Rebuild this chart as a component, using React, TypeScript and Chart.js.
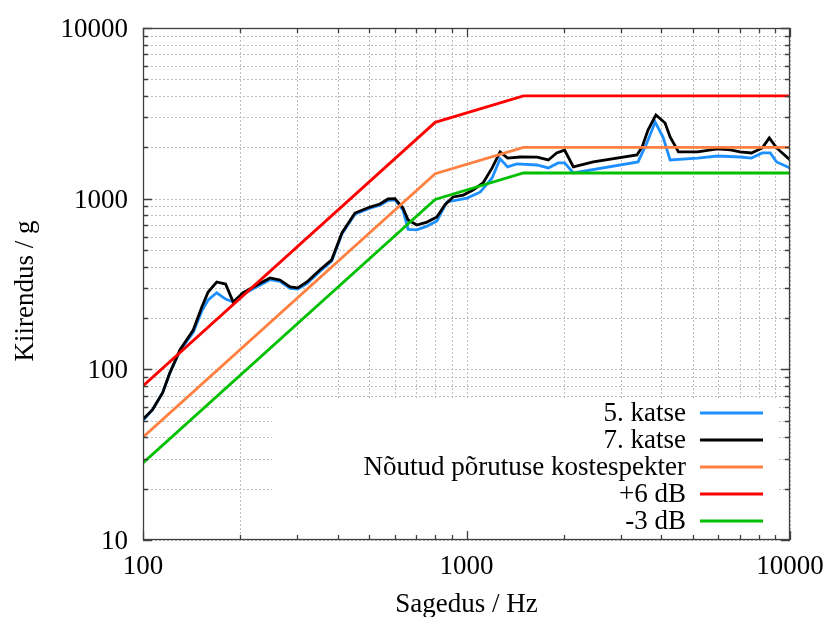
import React, { useEffect, useRef } from "react";
import { Chart, registerables } from "chart.js";
Chart.register(...registerables);

const FONT = '"Liberation Serif", "Times New Roman", serif';

// ---- data ----
const freq5 = [100, 107, 115, 121, 130, 143, 152, 159, 169, 180, 190, 204, 225, 247, 265, 285, 301, 321, 352, 383, 412, 452, 503, 540, 572, 601, 636, 660, 702, 755, 810, 870, 1005, 1104, 1200, 1270, 1340, 1430, 1650, 1790, 1920, 2010, 2140, 3390, 3610, 3830, 4050, 4260, 5180, 5970, 7010, 7600, 8210, 8690, 9090, 10000];
const accel5 = [50, 58, 73, 95, 128, 165, 220, 255, 281, 258, 248, 275, 305, 335, 328, 298, 295, 318, 375, 430, 620, 810, 880, 915, 975, 985, 860, 660, 656, 690, 740, 957, 1008, 1095, 1322, 1710, 1535, 1597, 1575, 1514, 1620, 1620, 1415, 1641, 2119, 2813, 2297, 1686, 1730, 1778, 1754, 1730, 1853, 1853, 1641, 1514];

const freq7 = [100, 107, 115, 121, 130, 143, 152, 159, 169, 180, 190, 204, 225, 247, 265, 285, 301, 321, 352, 383, 412, 452, 503, 540, 572, 601, 636, 660, 702, 755, 810, 857, 909, 977, 1048, 1125, 1200, 1270, 1340, 1464, 1654, 1790, 1900, 2010, 2140, 2465, 3365, 3490, 3640, 3850, 4110, 4260, 4520, 5180, 5970, 6540, 7010, 7600, 8210, 8630, 9090, 10000];
const accel7 = [51, 58, 73, 95, 130, 170, 232, 284, 325, 316, 248, 281, 312, 343, 334, 304, 300, 325, 382, 438, 630, 824, 893, 930, 996, 1000, 881, 750, 701, 729, 781, 918, 1023, 1050, 1125, 1237, 1514, 1880, 1730, 1754, 1750, 1686, 1853, 1926, 1535, 1641, 1803, 2010, 2523, 3093, 2774, 2297, 1880, 1880, 1955, 1930, 1880, 1853, 1983, 2270, 1983, 1686];

const refFreq = [100, 800, 1500, 10000];
const srs = [40, 1400, 2000, 2000];
const plus6 = [80, 2800, 4000, 4000];
const minus3 = [28.3, 990, 1414, 1414];

const xTickLabels = ["100", "1000", "10000"];
const yTickLabels = ["10", "100", "1000", "10000"];

const seriesLabels = ["5. katse", "7. katse", "Nõutud põrutuse kostespekter", "+6 dB", "-3 dB"];
const seriesColors = ["#1e8fff", "#000000", "#ff8040", "#ff0000", "#00c000"];

const xTitle = "Sagedus / Hz";
const yTitle = "Kiirendus / g";

function logSteps(min: number, max: number): number[] {
  const out: number[] = [];
  for (let p = Math.floor(Math.log10(min)); p <= Math.ceil(Math.log10(max)); p++) {
    for (let m = 1; m <= 9; m++) {
      const v = m * Math.pow(10, p);
      if (v >= min - 1e-9 && v <= max + 1e-9) out.push(v);
    }
  }
  return out;
}
const xGrid = logSteps(100, 10000);
const yGrid = logSteps(10, 10000);
const isDecade = (v: number) => Math.abs(Math.log10(v) - Math.round(Math.log10(v))) < 1e-9;

const pts = (xs: number[], ys: number[]) => xs.map((x, i) => ({ x, y: ys[i] }));

const framePlugin = {
  id: "frameLegend",
  beforeDatasetsDraw(chart: any) {
    const { ctx, chartArea: a, scales } = chart;
    const x = scales.x, y = scales.y;
    ctx.save();
    ctx.strokeStyle = "#bcbcbc";
    ctx.lineWidth = 1;
    ctx.setLineDash([2, 2]);
    for (const v of xGrid) {
      const px = Math.round(x.getPixelForValue(v)) + 0.5;
      ctx.beginPath(); ctx.moveTo(px, a.top); ctx.lineTo(px, a.bottom); ctx.stroke();
    }
    for (const v of yGrid) {
      const py = Math.round(y.getPixelForValue(v)) + 0.5;
      ctx.beginPath(); ctx.moveTo(a.left, py); ctx.lineTo(a.right, py); ctx.stroke();
    }
    ctx.setLineDash([]);
    // legend box (opaque)
    ctx.fillStyle = "#ffffff";
    ctx.fillRect(a.left + 129, a.bottom - 141, a.right - 13 - (a.left + 129), 141);
    ctx.restore();
  },
  afterDatasetsDraw(chart: any) {
    const { ctx, chartArea: a, scales } = chart;
    const x = scales.x, y = scales.y;
    ctx.save();
    // frame
    ctx.strokeStyle = "#404040";
    ctx.lineWidth = 1.3;
    ctx.strokeRect(a.left + 0.5, a.top + 0.5, a.right - a.left - 1, a.bottom - a.top - 1);
    // inward ticks
    ctx.beginPath();
    for (const v of xGrid) {
      const px = Math.round(x.getPixelForValue(v)) + 0.5;
      const len = isDecade(v) ? 9 : 5;
      ctx.moveTo(px, a.bottom); ctx.lineTo(px, a.bottom - len);
      ctx.moveTo(px, a.top); ctx.lineTo(px, a.top + len);
    }
    for (const v of yGrid) {
      const py = Math.round(y.getPixelForValue(v)) + 0.5;
      const len = isDecade(v) ? 9 : 5;
      ctx.moveTo(a.left, py); ctx.lineTo(a.left + len, py);
      ctx.moveTo(a.right, py); ctx.lineTo(a.right - len, py);
    }
    ctx.stroke();
    // legend
    ctx.font = `27px ${FONT}`;
    ctx.textAlign = "right";
    ctx.textBaseline = "middle";
    ctx.fillStyle = "#000";
    seriesLabels.forEach((lab, i) => {
      const cy = a.bottom - 127 + i * 27;
      ctx.fillText(lab, a.right - 104, cy + 1);
      ctx.strokeStyle = seriesColors[i];
      ctx.lineWidth = 2.8;
      ctx.beginPath();
      ctx.moveTo(a.right - 90, cy); ctx.lineTo(a.right - 27, cy);
      ctx.stroke();
    });
    ctx.restore();
  },
  afterDraw(chart: any) {
    const { ctx, chartArea: a, scales } = chart;
    const x = scales.x, y = scales.y;
    ctx.save();
    ctx.font = `27px ${FONT}`;
    ctx.fillStyle = "#000";
    // tick labels
    ctx.textAlign = "center";
    ctx.textBaseline = "alphabetic";
    xTickLabels.forEach((t) => {
      ctx.fillText(t, x.getPixelForValue(Number(t)), a.bottom + 34);
    });
    ctx.textAlign = "right";
    yTickLabels.forEach((t) => {
      ctx.fillText(t, a.left - 15, y.getPixelForValue(Number(t)) + 9);
    });
    // axis titles
    ctx.textAlign = "center";
    ctx.fillText(xTitle, (a.left + a.right) / 2, 612);
    ctx.translate(33, 291);
    ctx.rotate(-Math.PI / 2);
    ctx.fillText(yTitle, 0, 0);
    ctx.restore();
  },
};

export default function App() {
  const ref = useRef<HTMLCanvasElement | null>(null);
  useEffect(() => {
    if (!ref.current) return;
    const mk = (i: number, data: any[], order: number) => ({
      label: seriesLabels[i],
      data,
      borderColor: seriesColors[i],
      backgroundColor: seriesColors[i],
      borderWidth: 2.8,
      pointRadius: 0,
      tension: 0,
      fill: false,
      order,
    });
    const chart = new Chart(ref.current, {
      type: "line",
      data: {
        datasets: [
          mk(0, pts(freq5, accel5), 5),
          mk(1, pts(freq7, accel7), 4),
          mk(2, pts(refFreq, srs), 3),
          mk(3, pts(refFreq, plus6), 2),
          mk(4, pts(refFreq, minus3), 1),
        ],
      },
      options: {
        animation: false,
        responsive: true,
        maintainAspectRatio: false,
        layout: { padding: { top: 28, right: 37, left: 0, bottom: 0 } },
        plugins: { legend: { display: false }, tooltip: { enabled: false } },
        scales: {
          x: {
            type: "logarithmic",
            min: 100,
            max: 10000,
            grid: { display: false, drawTicks: false },
            border: { display: false },
            afterFit: (s: any) => { s.height = 77; },
            ticks: { display: false },
          },
          y: {
            type: "logarithmic",
            min: 10,
            max: 10000,
            grid: { display: false, drawTicks: false },
            border: { display: false },
            afterFit: (s: any) => { s.width = 143; },
            ticks: { display: false },
          },
        },
      },
      plugins: [framePlugin],
    });
    return () => chart.destroy();
  }, []);
  return (
    <div style={{ position: "absolute", left: 0, top: 0, width: 827, height: 617 }}>
      <canvas ref={ref} />
    </div>
  );
}
